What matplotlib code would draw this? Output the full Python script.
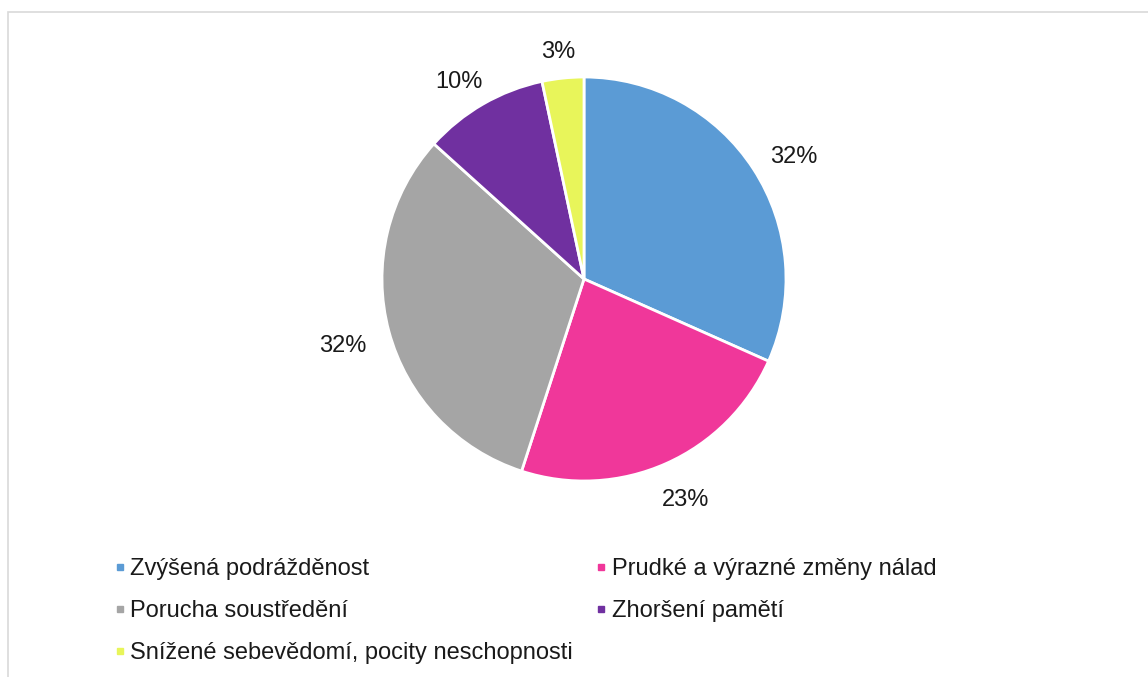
import numpy as np
import matplotlib.pyplot as plt
from matplotlib.lines import Line2D
from matplotlib.patches import Rectangle

plt.rcParams['font.family'] = ['Liberation Sans', 'DejaVu Sans']

# odpovědi respondentů
kategorie = ['Zvýšená podrážděnost', 'Prudké a výrazné změny nálad',
             'Porucha soustředění', 'Zhoršení pamětí',
             'Snížené sebevědomí, pocity neschopnosti']
pocty = [19, 14, 19, 6, 2]
barvy = ['#5B9BD5', '#F0379A', '#A5A5A5', '#7030A0', '#E8F55A']

W, H = 1148, 677
fig = plt.figure(figsize=(W / 100, H / 100), dpi=100)

# rámeček grafu
fig.patches.append(Rectangle((8 / W, -0.1), 1.2, 1 - 12 / H + 0.1,
                             transform=fig.transFigure, fill=False,
                             edgecolor='#D9D9D9', linewidth=1.2))

cx, cy, r = 584, 279, 202
ax = fig.add_axes([(cx - r) / W, (H - cy - r) / H, 2 * r / W, 2 * r / H])
wedges, _, autotexts = ax.pie(pocty, colors=barvy, startangle=90, counterclock=False,
                              autopct='%1.0f%%', pctdistance=1.12,
                              wedgeprops=dict(edgecolor='white', linewidth=2))
ax.set_xlim(-1, 1)
ax.set_ylim(-1, 1)
ax.set_aspect('equal')

# popisky vně výseče, odsazené podle velikosti textu
fig.canvas.draw()
renderer = fig.canvas.get_renderer()
for w, t in zip(wedges, autotexts):
    t.set_fontsize(17)
    t.set_color('#1a1a1a')
    bb = t.get_window_extent(renderer)
    th = np.deg2rad((w.theta1 + w.theta2) / 2)
    x = 1.12 * np.cos(th) + 0.5 * bb.width / r * np.cos(th)
    y = 1.12 * np.sin(th) + 0.4 * bb.height / r * np.sin(th) - 4 / r
    t.set_position((x, y))
    t.set_ha('center')
    t.set_va('center_baseline')

handles = [Line2D([], [], marker='s', linestyle='none', markersize=5,
                  markerfacecolor=c, markeredgecolor=c) for c in barvy]
poradi = [0, 2, 4, 1, 3]
fig.legend([handles[i] for i in poradi], [kategorie[i] for i in poradi],
           ncol=2, loc='upper left', bbox_to_anchor=(102 / W, 1 - 546 / H),
           frameon=False, fontsize=17, handlelength=0.5, handletextpad=0.2,
           columnspacing=0.95, labelspacing=0.85, borderpad=0, labelcolor='#1a1a1a')

fig.savefig('out.png', dpi=100)
